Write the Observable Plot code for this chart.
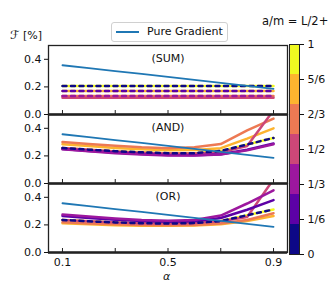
<!DOCTYPE html>
<html><head><meta charset="utf-8">
<script src="https://cdn.jsdelivr.net/npm/d3@7"></script>
<script src="https://cdn.jsdelivr.net/npm/@observablehq/plot@0.6"></script>
<style>
body{margin:0;background:#fff;font-family:"DejaVu Sans",sans-serif;color:#111}
#wrap{position:relative;width:336px;height:296px;overflow:hidden}
#wrap > *{position:absolute}
.legend{left:111px;top:22px;width:115px;height:18px;border:1px solid #d0d0d0;border-radius:3px;font-size:11px;background:#fff}
</style></head><body><div id="wrap"></div>
<script>
const panels = ["SUM","AND","OR"];
const alphas = [0.1,0.2,0.3,0.4,0.5,0.6,0.7,0.8,0.9];
const amValues = [0,1/6,1/3,1/2,2/3,5/6,1];
const amLabels = ["0","1/6","1/3","1/2","2/3","5/6","1"];
const dashedByPanel = {SUM: [0,1/6,1/3], AND: [0], OR: [0]};
const drawOrder = [1,5/6,2/3,1/2,1/6,1/3,0];
const xTicks = [0.1,0.3,0.5,0.7,0.9];
const xLabelTicks = [0.1,0.5,0.9];
const yTicks = [0,0.2,0.4];
const pureGradient = [0.357,0.336,0.315,0.294,0.272,0.251,0.229,0.208,0.186];

// rows indexed like amValues
const sumSeries = [
  [0.207,0.207,0.207,0.207,0.207,0.207,0.207,0.207,0.207],
  [0.171,0.171,0.171,0.171,0.171,0.171,0.171,0.171,0.171],
  [0.134,0.134,0.134,0.134,0.134,0.134,0.134,0.134,0.134],
  [0.121,0.121,0.121,0.121,0.121,0.121,0.121,0.121,0.121],
  [0.134,0.134,0.134,0.134,0.134,0.134,0.134,0.134,0.134],
  [0.171,0.171,0.171,0.171,0.171,0.171,0.171,0.171,0.171],
  [0.207,0.207,0.207,0.207,0.207,0.207,0.207,0.207,0.207]
];
const andSeries = [
  [0.258,0.245,0.234,0.226,0.220,0.220,0.236,0.283,0.330],
  [0.250,0.236,0.224,0.213,0.206,0.204,0.212,0.245,0.290],
  [0.248,0.233,0.220,0.210,0.203,0.202,0.210,0.240,0.285],
  [0.257,0.244,0.232,0.223,0.217,0.217,0.226,0.271,0.530],
  [0.300,0.287,0.273,0.262,0.256,0.262,0.286,0.385,0.470],
  [0.285,0.271,0.258,0.248,0.241,0.243,0.256,0.325,0.400],
  [0.258,0.245,0.234,0.226,0.220,0.220,0.236,0.283,0.330]
];
const orSeries = [
  [0.236,0.226,0.218,0.212,0.210,0.213,0.228,0.270,0.312],
  [0.265,0.250,0.238,0.228,0.222,0.226,0.250,0.310,0.380],
  [0.275,0.260,0.247,0.236,0.230,0.236,0.268,0.355,0.450],
  [0.236,0.226,0.218,0.212,0.210,0.213,0.226,0.257,0.530],
  [0.220,0.211,0.204,0.199,0.198,0.200,0.210,0.236,0.285],
  [0.212,0.204,0.198,0.194,0.193,0.195,0.204,0.228,0.265],
  [0.236,0.226,0.218,0.212,0.210,0.213,0.228,0.270,0.312]
];
const seriesByPanel = {SUM: sumSeries, AND: andSeries, OR: orSeries};

const rows = [];
panels.forEach(p => seriesByPanel[p].forEach((vals, i) =>
  vals.forEach((f, j) => rows.push({panel: p, am: amValues[i], alpha: alphas[j], f}))));
const pg = panels.flatMap(p => pureGradient.map((f, j) => ({panel: p, alpha: alphas[j], f})));

const colorOpts = {type: "linear", scheme: "plasma", domain: [0, 1]};

const lineMarks = [];
drawOrder.forEach(a => {
  [false, true].forEach(dashed => {
    const data = rows.filter(d => d.am === a && dashedByPanel[d.panel].includes(a) === dashed);
    if (data.length) lineMarks.push(Plot.line(data, {
      x: "alpha", y: "f", fy: "panel", z: "panel", stroke: "am",
      strokeWidth: 2.5, clip: true,
      strokeDasharray: dashed ? "4,4.5" : null
    }));
  });
});

const main = Plot.plot({
  width: 336, height: 296,
  marginLeft: 48, marginRight: 49, marginTop: 44, marginBottom: 43,
  style: {fontFamily: "DejaVu Sans", fontSize: "11px", color: "#111", background: "transparent"},
  x: {domain: [0.047, 0.953]},
  y: {domain: [0, 0.5]},
  fy: {domain: panels, padding: 0, axis: null},
  color: colorOpts,
  marks: [
    ...lineMarks,
    Plot.line(pg, {x: "alpha", y: "f", fy: "panel", z: "panel", stroke: "#1f77b4", strokeWidth: 1.8, clip: true}),
    Plot.frame({stroke: "#222", strokeWidth: 1.3}),
    Plot.ruleY([0], {stroke: "#222", strokeWidth: 2.6}),
    Plot.tickX(xTicks, {x: d => d, insetTop: 65, stroke: "#222", strokeWidth: 1}),
    Plot.axisY({ticks: yTicks, tickFormat: d3.format(".1f"), tickSize: 4, tickPadding: 3, label: null, fontSize: 11}),
    Plot.axisX({ticks: xLabelTicks, tickSize: 0, tickPadding: 6, tickFormat: d3.format(".1f"), label: null, fontSize: 11}),
    Plot.text(panels, {fy: d => d, text: d => `(${d})`, frameAnchor: "top", dy: 9, fontSize: 11})
  ]
});
main.style.left = "0px"; main.style.top = "0px";

const cbRows = amValues.map((v, i) => ({am: v, lo: i / amValues.length, hi: (i + 1) / amValues.length}));
const cbar = Plot.plot({
  width: 47, height: 226, marginTop: 8, marginBottom: 8, marginLeft: 0, marginRight: 37,
  style: {fontFamily: "DejaVu Sans", fontSize: "11px", color: "#111", background: "transparent"},
  x: {axis: null, domain: [0, 1]},
  y: {domain: [0, 1], axis: null},
  color: colorOpts,
  marks: [
    Plot.rect(cbRows, {x1: 0, x2: 1, y1: "lo", y2: "hi", fill: "am"}),
    Plot.frame({stroke: "#222", strokeWidth: 1}),
    Plot.axisY({anchor: "right", ticks: amValues, tickFormat: d => amLabels[amValues.indexOf(d)], tickSize: 4, tickPadding: 4, fontSize: 11, label: null})
  ]
});
cbar.style.left = "289px"; cbar.style.top = "36px";

const wrap = document.getElementById("wrap");
wrap.appendChild(main);
wrap.appendChild(cbar);

const legend = document.createElement("div");
legend.className = "legend";
legend.innerHTML = `<svg width="30" height="18" style="position:absolute;left:2px;top:0"><line x1="2" x2="25" y1="9" y2="9" stroke="#1f77b4" stroke-width="2"/></svg><span style="position:absolute;left:35px;top:2px">Pure Gradient</span>`;
wrap.appendChild(legend);

const title = document.createElement("div");
title.textContent = "a/m = L/2+";
title.style.cssText = "left:262px;top:14px;font-size:11.5px";
wrap.appendChild(title);

const ylab = document.createElement("div");
ylab.innerHTML = "<i style='font-size:12px'>ℱ</i> [%]";
ylab.style.cssText = "left:10px;top:28px;font-size:11px";
wrap.appendChild(ylab);

const xlab = document.createElement("div");
xlab.innerHTML = "<i>α</i>";
xlab.style.cssText = "left:163px;top:270px;font-size:11px";
wrap.appendChild(xlab);
</script></body></html>
